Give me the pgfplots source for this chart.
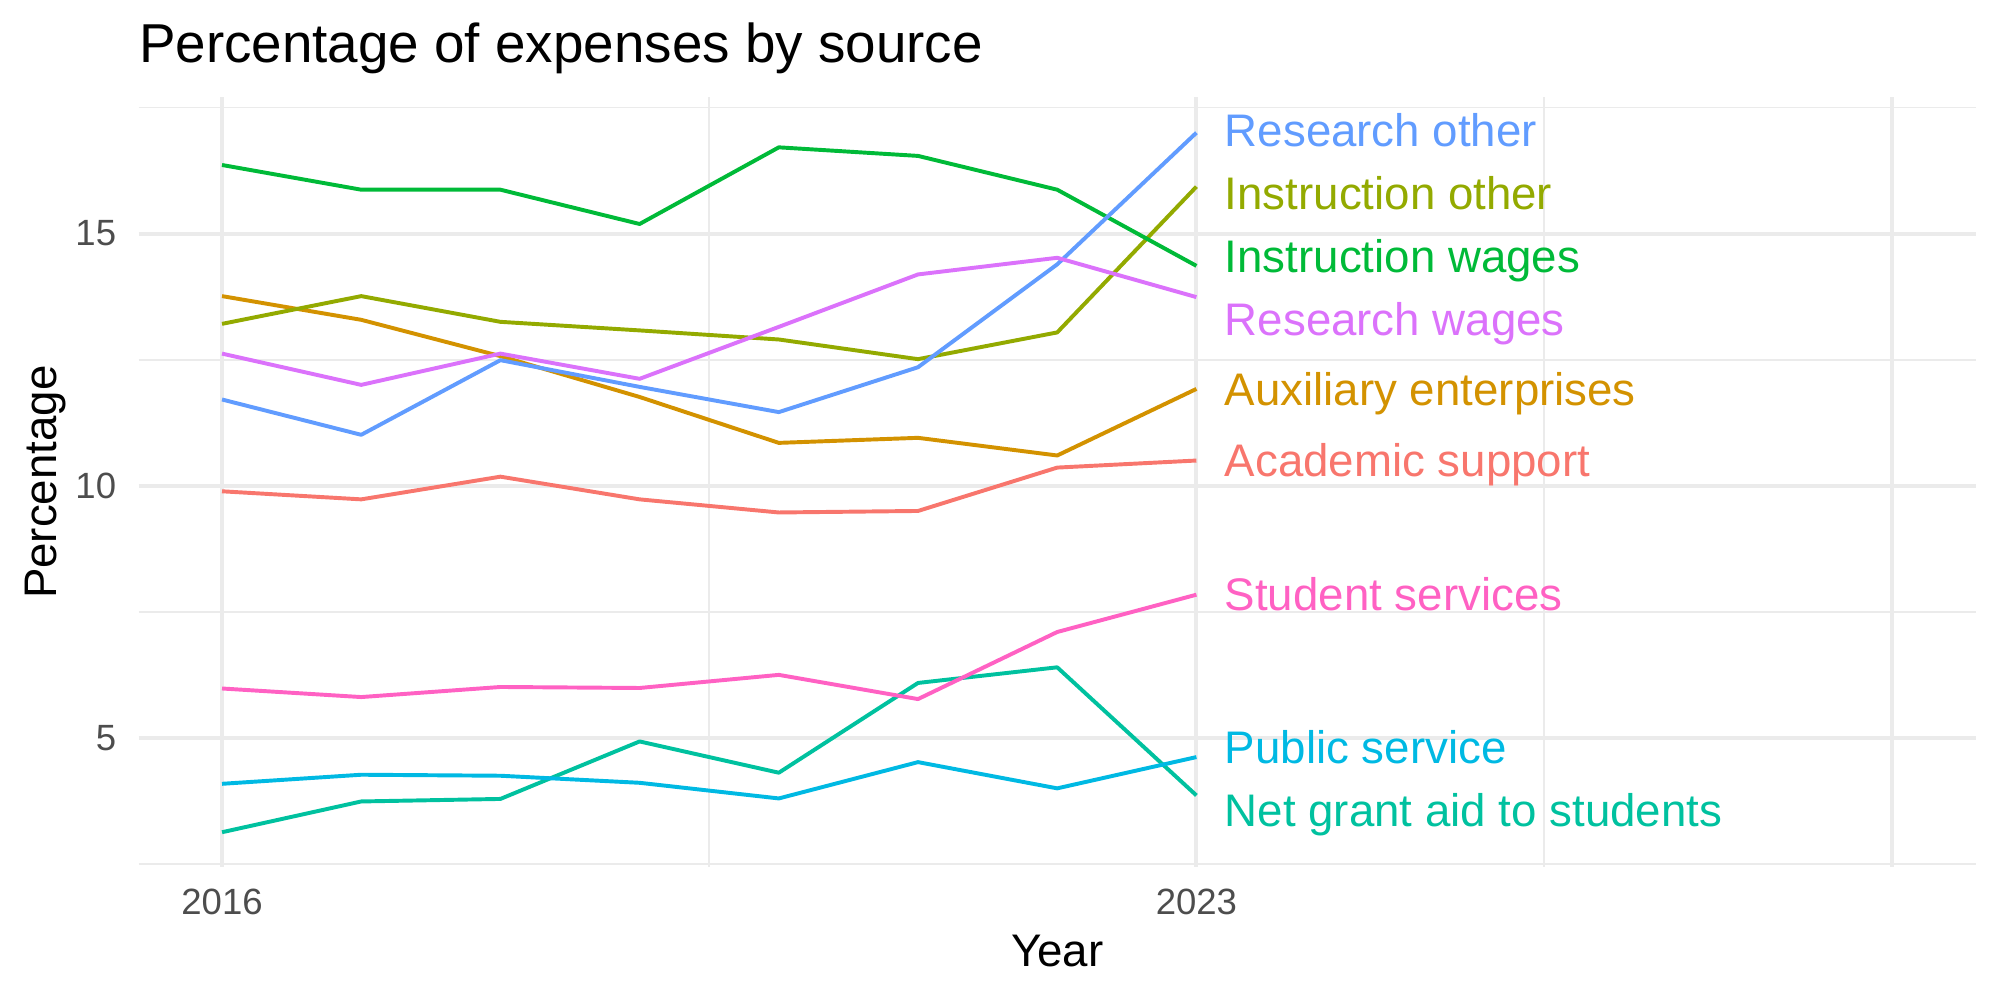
\documentclass[border=0pt]{standalone}
\usepackage{pgfplots}
\usepackage{pgfplotstable}
\usepackage{fontspec}
\pgfplotsset{compat=1.18}
\setmainfont{Liberation Sans}

\definecolor{grid92}{HTML}{EBEBEB}
\definecolor{tick30}{HTML}{4D4D4D}
\definecolor{cAcad}{HTML}{F8766D}
\definecolor{cAux}{HTML}{D39200}
\definecolor{cInstOth}{HTML}{93AA00}
\definecolor{cInstWag}{HTML}{00BA38}
\definecolor{cGrant}{HTML}{00C19F}
\definecolor{cPublic}{HTML}{00B9E3}
\definecolor{cResOth}{HTML}{619CFF}
\definecolor{cResWag}{HTML}{DB72FB}
\definecolor{cStudent}{HTML}{FF61C3}

% Share of expenses (percent) by source and year
\pgfplotstableread{
year acad  aux   instoth instwag grant pubserv resoth reswag student
2016 9.89  13.76 13.21   16.36   3.13  4.09    11.71  12.62  5.98
2017 9.73  13.29 13.76   15.87   3.74  4.27    11.01  12.00  5.81
2018 10.18 12.57 13.25   15.87   3.79  4.25    12.49  12.62  6.01
2019 9.73  11.76 13.08   15.19   4.93  4.11    11.96  12.12  5.99
2020 9.47  10.85 12.90   16.71   4.31  3.80    11.46  13.15  6.25
2021 9.50  10.95 12.51   16.54   6.09  4.52    12.35  14.19  5.77
2022 10.36 10.60 13.04   15.87   6.40  4.00    14.39  14.52  7.10
2023 10.50 11.92 15.93   14.36   3.86  4.62    17.00  13.74  7.84
}\expenses

\begin{document}
\begin{tikzpicture}[lbl/.style={anchor=base west, inner sep=0pt, font=\fontsize{16.5}{19}\selectfont}]
\begin{axis}[
  name=ax,
  scale only axis,
  width=663.95pt, height=278.1pt,
  xmin=2015.4, xmax=2028.6,
  ymin=2.44, ymax=17.70,
  axis line style={draw=none},
  major tick length=0pt, minor tick length=0pt,
  tick style={draw=none},
  xtick={2016,2023,2028},
  xticklabels={2016,2023,{}},
  minor xtick={2019.5,2025.5},
  ytick={5,10,15},
  minor ytick={2.5,7.5,12.5,17.5},
  grid=both,
  major grid style={draw=grid92, line width=1.42pt},
  minor grid style={draw=grid92, line width=0.71pt},
  /pgf/number format/assume math mode=true,
  /pgf/number format/1000 sep={},
  xticklabel style={font=\fontsize{13.2}{15}\selectfont, text=tick30,
    anchor=base, inner sep=0pt, yshift=-17.3pt},
  yticklabel style={font=\fontsize{13.2}{15}\selectfont, text=tick30,
    anchor=east, inner sep=0pt, xshift=-7.9pt},
  title={Percentage of expenses by source},
  title style={at={(axis description cs:0,1.04567)}, anchor=base west,
    inner sep=0pt, yshift=-6pt, font=\fontsize{19.8}{23}\selectfont},
  xlabel={Year},
  xlabel style={at={(axis description cs:0.5,-0.12945)}, anchor=base,
    inner sep=0pt, font=\fontsize{16.5}{19}\selectfont},
  ylabel={Percentage},
  ylabel style={at={(axis description cs:-0.04458,0.5)}, anchor=base,
    inner sep=0pt, font=\fontsize{16.5}{19}\selectfont},
  every axis plot/.append style={line width=1.42pt, line join=round, mark=none},
  clip=false,
]
\addplot[cAcad]    table[x=year, y=acad]    {\expenses};
\addplot[cAux]     table[x=year, y=aux]     {\expenses};
\addplot[cInstOth] table[x=year, y=instoth] {\expenses};
\addplot[cInstWag] table[x=year, y=instwag] {\expenses};
\addplot[cGrant]   table[x=year, y=grant]   {\expenses};
\addplot[cPublic]  table[x=year, y=pubserv] {\expenses};
\addplot[cResOth]  table[x=year, y=resoth]  {\expenses};
\addplot[cResWag]  table[x=year, y=reswag]  {\expenses};
\addplot[cStudent] table[x=year, y=student] {\expenses};

% direct labels at the right end of each line
\node[lbl, text=cResOth]  at (axis cs:2023.2,16.73) {Research other};
\node[lbl, text=cInstOth] at (axis cs:2023.2,15.48) {Instruction other};
\node[lbl, text=cInstWag] at (axis cs:2023.2,14.23) {Instruction wages};
\node[lbl, text=cResWag]  at (axis cs:2023.2,12.98) {Research wages};
\node[lbl, text=cAux]     at (axis cs:2023.2,11.59) {Auxiliary enterprises};
\node[lbl, text=cAcad]    at (axis cs:2023.2,10.19) {Academic support};
\node[lbl, text=cStudent] at (axis cs:2023.2,7.52)  {Student services};
\node[lbl, text=cPublic]  at (axis cs:2023.2,4.49)  {Public service};
\node[lbl, text=cGrant]   at (axis cs:2023.2,3.25)  {Net grant aid to students};
\end{axis}
\pgfresetboundingbox
\path[use as bounding box] ([xshift=-50.05pt,yshift=-48.05pt]ax.south west) rectangle ++(722.7pt,361.35pt);
\end{tikzpicture}
\end{document}
